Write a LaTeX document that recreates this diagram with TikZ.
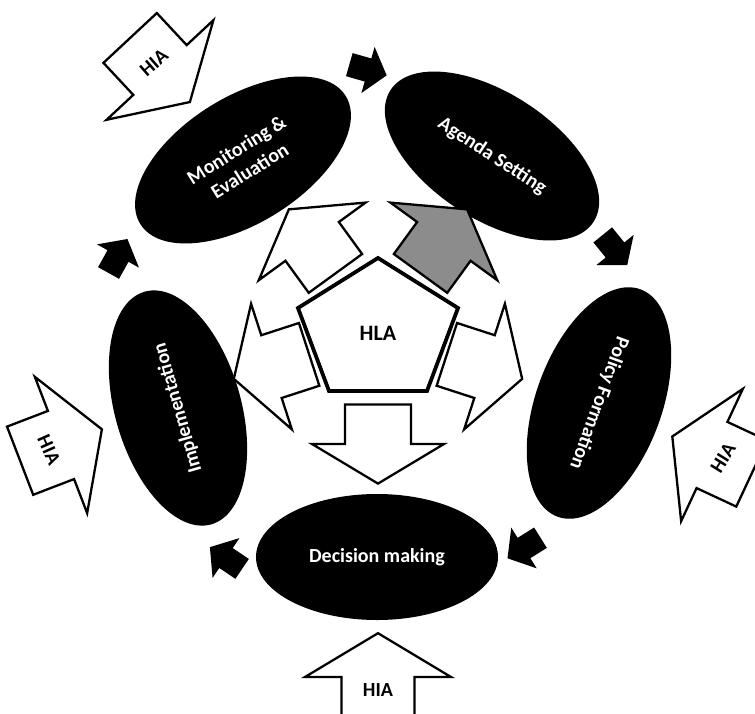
\documentclass[tikz,border=0pt]{standalone}
\usepackage{fontspec}
\setmainfont{Carlito}
\usetikzlibrary{shapes.geometric}

\tikzset{
  pics/blockarrow/.style={code={
    \path[pic actions] (-0.6,-0.5) -- (0,-0.5) -- (0,-1) -- (0.6,0)
      -- (0,1) -- (0,0.5) -- (-0.6,0.5) -- cycle;
  }},
  outline/.style={draw=black, line width=2.3pt, line join=miter, fill=white},
  hiaarrow/.style={outline, scale=73},
  hlaarrow/.style={outline, scale=66},
  cyclearrow/.style={fill=black, scale=24, xscale=1.35},
}

\begin{document}
\begin{tikzpicture}[x=1pt, y=1pt]
    \clip (-378,-381) rectangle (377,332);

    % the five stages
    \begin{scope}[every node/.style={ellipse, fill=black, text=white,
        minimum width=242pt, minimum height=126pt, inner sep=0pt,
        align=center, font=\bfseries\fontsize{20}{25}\selectfont}]
      \node[rotate=32] (monitor) at (-135,172) {Monitoring \&\\Evaluation};
      \node[rotate=-33] (agenda) at (114,176) {Agenda Setting};
      \node[rotate=-110] (policy) at (221,-71) {Policy Formation};
      \node (decision) at (-1,-225) {Decision making};
      \node[rotate=106] (implement) at (-200,-76) {Implementation};
    \end{scope}

    % cycle arrows between the stages
    \pic[rotate=-16, cyclearrow] at (-10,262) {blockarrow};
    \pic[rotate=-51, cyclearrow] at (237,82) {blockarrow};
    \pic[rotate=212, cyclearrow] at (146,-216) {blockarrow};
    \pic[rotate=146, cyclearrow] at (-152,-226) {blockarrow};
    \pic[rotate=61, cyclearrow] at (-260,76) {blockarrow};

    % HLA in the middle
    \draw[line width=3.8pt, line join=miter]
      (0,74) -- (80,24) -- (49,-59) -- (-49,-59) -- (-80,24) -- cycle;
    \node[font=\bfseries\fontsize{22}{24}\selectfont] (hla) at (0,-1) {HLA};

    \foreach \a in {-90,-18,126,198}
      \pic[rotate=\a, hlaarrow] at (\a:112) {blockarrow};
    \pic[rotate=54, hlaarrow, fill=black!45] at (54:112) {blockarrow};

    % HIA arrows from outside
    \pic[rotate=-47, hiaarrow] at (-218,262) {blockarrow};
    \pic[rotate=21, hiaarrow] at (-317,-113) {blockarrow};
    \pic[rotate=155, hiaarrow] at (334,-123) {blockarrow};
    \pic[rotate=90, hiaarrow] at (0,-345) {blockarrow};

    \begin{scope}[every node/.style={font=\bfseries\fontsize{20}{24}\selectfont}]
      \node[rotate=41] (hia1) at (-224,269) {HIA};
      \node[rotate=-66] (hia2) at (-329,-118) {HIA};
      \node[rotate=58] (hia3) at (345,-126) {HIA};
      \node (hia4) at (0,-358) {HIA};
    \end{scope}
  \end{tikzpicture}
\end{document}
